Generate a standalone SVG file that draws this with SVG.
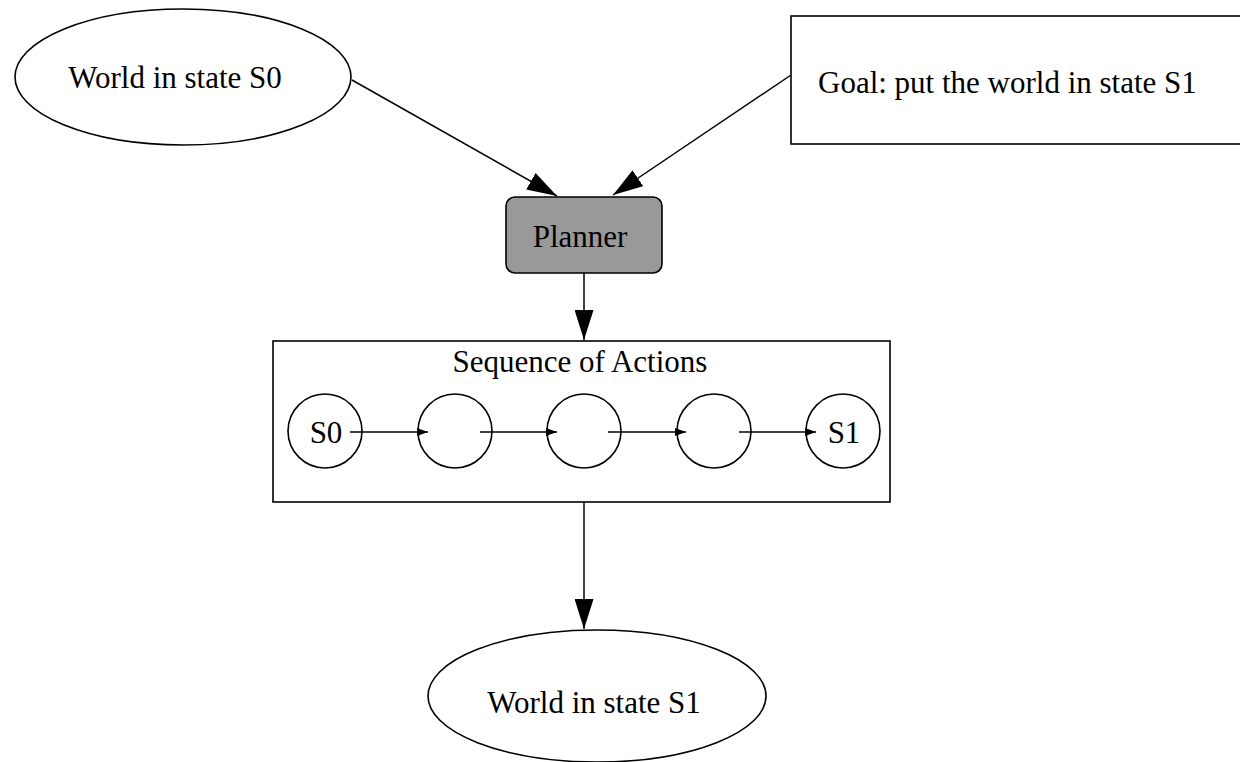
<svg xmlns="http://www.w3.org/2000/svg" width="1240" height="762" viewBox="0 0 1240 762">
  <style>
    .shape { fill: #ffffff; stroke: #000000; stroke-width: 1.6; }
    .planner { fill: #999999; stroke: #000000; stroke-width: 1.6; }
    .edge { fill: none; stroke: #000000; stroke-width: 1.5; }
    .lbl { font-family: "Liberation Serif", "Times New Roman", serif; font-size: 31px; fill: #000000; }
    .mid { text-anchor: middle; }
  </style>
  <defs>
    <marker id="bigArrow" markerUnits="userSpaceOnUse" markerWidth="30" markerHeight="19" refX="30" refY="9.5" orient="auto">
      <path d="M0,0 L30,9.5 L0,19 Z" fill="#000000"/>
    </marker>
    <marker id="smallArrow" markerUnits="userSpaceOnUse" markerWidth="11" markerHeight="8" refX="11" refY="4" orient="auto">
      <path d="M0,0 L11,4 L0,8 Z" fill="#000000"/>
    </marker>
  </defs>
  <rect width="1240" height="762" fill="#ffffff"/>

  <g id="world-s0">
    <ellipse class="shape" cx="183" cy="77" rx="168" ry="68"/>
    <text class="lbl mid" x="175" y="88">World in state S0</text>
  </g>

  <g id="goal">
    <rect class="shape" x="791" y="16" width="460" height="128"/>
    <text class="lbl" x="818" y="93">Goal: put the world in state S1</text>
  </g>

  <g id="planner">
    <rect class="planner" x="506" y="197" width="156" height="76" rx="9" ry="9"/>
    <text class="lbl mid" x="580" y="247">Planner</text>
  </g>

  <g id="sequence">
    <rect class="shape" x="273" y="341" width="617" height="161"/>
    <text class="lbl mid" x="580" y="372">Sequence of Actions</text>
  </g>

  <g id="state-s0">
    <ellipse class="shape" cx="325" cy="431" rx="37" ry="37"/>
    <text class="lbl mid" x="326" y="443">S0</text>
  </g>
  <g id="state-2">
    <ellipse class="shape" cx="455" cy="431" rx="37" ry="37"/>
  </g>
  <g id="state-3">
    <ellipse class="shape" cx="584" cy="431" rx="37" ry="37"/>
  </g>
  <g id="state-4">
    <ellipse class="shape" cx="714" cy="431" rx="37" ry="37"/>
  </g>
  <g id="state-s1">
    <ellipse class="shape" cx="843" cy="431" rx="37" ry="37"/>
    <text class="lbl mid" x="844" y="443">S1</text>
  </g>

  <g id="world-s1">
    <ellipse class="shape" cx="597" cy="696" rx="169" ry="66"/>
    <text class="lbl mid" x="594" y="713">World in state S1</text>
  </g>

  <g id="connectors">
    <line class="edge" x1="352" y1="80" x2="557" y2="196" marker-end="url(#bigArrow)"/>
    <line class="edge" x1="791" y1="75" x2="613" y2="195" marker-end="url(#bigArrow)"/>
    <line class="edge" x1="584" y1="273" x2="584" y2="340" marker-end="url(#bigArrow)"/>
    <line class="edge" x1="584" y1="502" x2="584" y2="629" marker-end="url(#bigArrow)"/>
    <line class="edge" x1="350" y1="432" x2="428" y2="432" marker-end="url(#smallArrow)"/>
    <line class="edge" x1="480" y1="432" x2="557" y2="432" marker-end="url(#smallArrow)"/>
    <line class="edge" x1="608" y1="432" x2="686" y2="432" marker-end="url(#smallArrow)"/>
    <line class="edge" x1="739" y1="432" x2="816" y2="432" marker-end="url(#smallArrow)"/>
  </g>
</svg>
